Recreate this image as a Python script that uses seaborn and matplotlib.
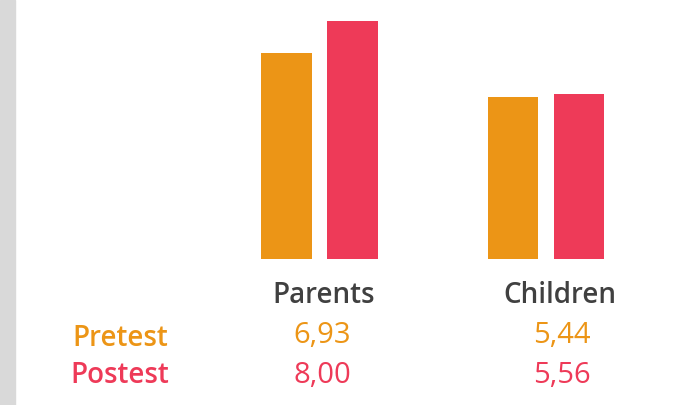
import matplotlib
matplotlib.use('Agg')
import matplotlib.pyplot as plt
import seaborn as sns
import pandas as pd
from matplotlib.patches import Rectangle

# values
categories = ['Parents', 'Children']
series = ['Pretest', 'Postest']
pretest = [6.93, 5.44]
postest = [8.00, 5.56]
colors = ['#EC9516', '#EE3A58']

df = pd.DataFrame({
    'group': categories * 2,
    'test': [series[0]] * 2 + [series[1]] * 2,
    'score': pretest + postest,
})

sns.set_style('white')
plt.rcParams['font.family'] = ['Open Sans', 'DejaVu Sans']

W, H = 679, 405
fig = plt.figure(figsize=(W / 100, H / 100), dpi=100)
ax = fig.add_axes([0, 146 / H, 1, 259 / H])

sns.barplot(data=df, x='group', y='score', hue='test', palette=colors,
            width=0.58, gap=0.23, saturation=1, legend=False, linewidth=0, ax=ax)

ax.set_xlim(-319.5 / 226.5, (W - 319.5) / 226.5)
ax.set_ylim(0, 259 / 29.75)
ax.axis('off')

# grey strip on the left edge
fig.patches.append(Rectangle((0, 0), 15 / W, 1, transform=fig.transFigure,
                             color='#D9D9D9', zorder=0))

# table under the bars
label_x = [0.02, 1.062]
value_x = [0.011, 1.07]
fs_lab = 20
fs_val = 21
for i, cat in enumerate(categories):
    xf = fig.transFigure.inverted().transform(ax.transData.transform((label_x[i], 0)))[0]
    fig.text(xf, 1 - 303 / H, cat, ha='center', va='baseline', fontsize=fs_lab,
             fontweight='semibold', color='#404040')
    xv = fig.transFigure.inverted().transform(ax.transData.transform((value_x[i], 0)))[0]
    fig.text(xv, 1 - 343 / H, f'{pretest[i]:.2f}'.replace('.', ','), ha='center',
             va='baseline', fontsize=fs_val, color=colors[0])
    fig.text(xv, 1 - 383 / H, f'{postest[i]:.2f}'.replace('.', ','), ha='center',
             va='baseline', fontsize=fs_val, color=colors[1])

fig.text(72 / W, 1 - 346 / H, series[0], ha='left', va='baseline', fontsize=fs_lab,
         fontweight='semibold', color=colors[0])
fig.text(70 / W, 1 - 383 / H, series[1], ha='left', va='baseline', fontsize=fs_lab,
         fontweight='semibold', color=colors[1])

fig.savefig('out.png', dpi=100)
